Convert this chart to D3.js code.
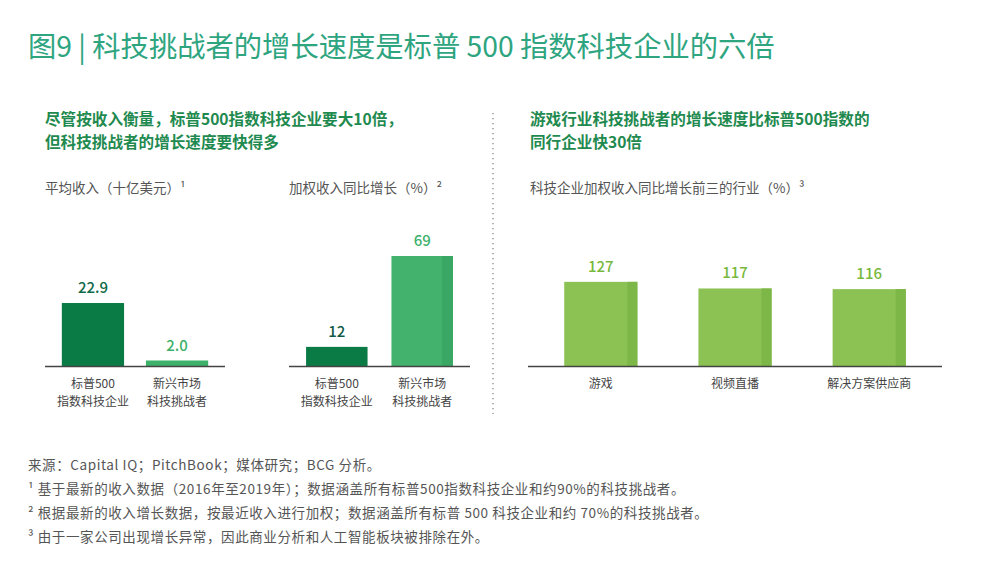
<!DOCTYPE html>
<html lang="zh">
<head>
<meta charset="UTF-8">
<title>图9 科技挑战者的增长速度</title>
<script src="https://d3js.org/d3.v7.min.js"></script>
<style>
    body { margin: 0; background: #fff; font-family: "Noto Sans CJK SC", "Noto Sans", sans-serif; }
    svg text { font-family: "Noto Sans CJK SC", "Noto Sans", sans-serif; }
    .title { fill: #2ea57f; font-size: 28.3px; }
    .sub { fill: #1f8a4f; font-size: 15.6px; font-weight: bold; }
    .axis-title { fill: #555; font-size: 13.5px; }
    .cat { fill: #444; font-size: 12px; text-anchor: middle; }
    .val { font-size: 15px; font-weight: 500; text-anchor: middle; }
    .note { fill: #555; font-size: 13.5px; letter-spacing: 0.6px; }
</style>
</head>
<body>
<svg id="chart" width="998" height="582"></svg>
<script>
    // data
    const leftCats = ["标普500|指数科技企业", "新兴市场|科技挑战者"];
    const revenueValues = [22.9, 2.0];
    const growthValues = [12, 69];
    const industryCats = ["游戏", "视频直播", "解决方案供应商"];
    const industryValues = [127, 117, 116];

    const footnotes = [
        "来源：Capital IQ；PitchBook；媒体研究；BCG 分析。",
        "¹ 基于最新的收入数据（2016年至2019年）；数据涵盖所有标普500指数科技企业和约90%的科技挑战者。",
        "² 根据最新的收入增长数据，按最近收入进行加权；数据涵盖所有标普 500 科技企业和约 70%的科技挑战者。",
        "³ 由于一家公司出现增长异常，因此商业分析和人工智能板块被排除在外。"
    ];

    const svg = d3.select("#chart");
    const baseY = 366;
    const topY = 256;

    svg.append("text").attr("class", "title").attr("x", 28).attr("y", 57)
        .text("图9 | 科技挑战者的增长速度是标普 500 指数科技企业的六倍");

    svg.append("text").attr("class", "sub").attr("x", 45).attr("y", 125)
        .text("尽管按收入衡量，标普500指数科技企业要大10倍，");
    svg.append("text").attr("class", "sub").attr("x", 45).attr("y", 148)
        .text("但科技挑战者的增长速度要快得多");
    svg.append("text").attr("class", "sub").attr("x", 530).attr("y", 125)
        .text("游戏行业科技挑战者的增长速度比标普500指数的");
    svg.append("text").attr("class", "sub").attr("x", 530).attr("y", 148)
        .text("同行企业快30倍");

    svg.append("text").attr("class", "axis-title").attr("x", 45).attr("y", 193)
        .text("平均收入（十亿美元）¹");
    svg.append("text").attr("class", "axis-title").attr("x", 289).attr("y", 193)
        .text("加权收入同比增长（%）²");
    svg.append("text").attr("class", "axis-title").attr("x", 530).attr("y", 193)
        .text("科技企业加权收入同比增长前三的行业（%）³");

    // dotted separator
    svg.append("line")
        .attr("x1", 493).attr("x2", 493).attr("y1", 113).attr("y2", 414)
        .attr("stroke", "#888").attr("stroke-width", 1.3)
        .attr("stroke-dasharray", "1.3,3.7");

    function panel(opts) {
        const x = d3.scaleBand().domain(opts.cats)
            .range(opts.xRange).paddingInner(opts.pin).paddingOuter(opts.pout);
        const y = d3.scaleLinear().domain([0, opts.yMax]).range([baseY, topY]);
        const g = svg.append("g");
        const rows = opts.cats.map((c, i) => ({ cat: c, v: opts.values[i], i }));

        const bars = g.selectAll("g.bar").data(rows).join("g").attr("class", "bar");
        bars.append("rect")
            .attr("x", d => x(d.cat))
            .attr("y", d => y(d.v))
            .attr("width", x.bandwidth())
            .attr("height", d => y(0) - y(d.v))
            .attr("fill", d => opts.fills[d.i]);
        bars.filter(d => opts.shades[d.i]).append("rect")
            .attr("x", d => x(d.cat) + x.bandwidth() - opts.shadeW)
            .attr("y", d => y(d.v))
            .attr("width", opts.shadeW)
            .attr("height", d => y(0) - y(d.v))
            .attr("fill", d => opts.shades[d.i]);

        g.selectAll("text.val").data(rows).join("text")
            .attr("class", "val")
            .attr("x", d => x(d.cat) + x.bandwidth() / 2)
            .attr("y", d => y(d.v) - 10)
            .attr("fill", d => opts.labelFills[d.i])
            .text(d => opts.fmt(d.v));

        g.append("line")
            .attr("x1", opts.xRange[0]).attr("x2", opts.xRange[1])
            .attr("y1", baseY + 0.5).attr("y2", baseY + 0.5)
            .attr("stroke", "#444").attr("stroke-width", 1.3);

        // category labels, one text per line
        const lines = rows.flatMap(d => d.cat.split("|").map((t, k) => ({ cat: d.cat, t, k })));
        g.selectAll("text.cat").data(lines).join("text")
            .attr("class", "cat")
            .attr("x", d => x(d.cat) + x.bandwidth() / 2)
            .attr("y", d => baseY + 22 + d.k * 17.8)
            .text(d => d.t);
    }

    panel({
        cats: leftCats, values: revenueValues, yMax: 40,
        xRange: [45, 225], pin: 0.26, pout: 0.2,
        fills: ["#0b7b46", "#3db16a"], shades: [null, null], shadeW: 0,
        labelFills: ["#0e6a48", "#3db16a"], fmt: d3.format(".1f")
    });
    panel({
        cats: leftCats, values: growthValues, yMax: 69,
        xRange: [289, 470], pin: 0.28, pout: 0.2,
        fills: ["#0b7b46", "#43b26d"], shades: [null, "#3aa864"], shadeW: 11,
        labelFills: ["#0e5a46", "#3db16a"], fmt: d3.format("d")
    });
    panel({
        cats: industryCats, values: industryValues, yMax: 166,
        xRange: [528, 942], pin: 0.455, pout: 0.27,
        fills: ["#8bc253", "#8bc253", "#8bc253"],
        shades: ["#7cb747", "#7cb747", "#7cb747"], shadeW: 10,
        labelFills: ["#78b83e", "#78b83e", "#78b83e"], fmt: d3.format("d")
    });

    svg.selectAll("text.note").data(footnotes).join("text")
        .attr("class", "note")
        .attr("x", 28)
        .attr("y", (d, i) => 470 + i * 24)
        .text(d => d);
</script>
</body>
</html>
